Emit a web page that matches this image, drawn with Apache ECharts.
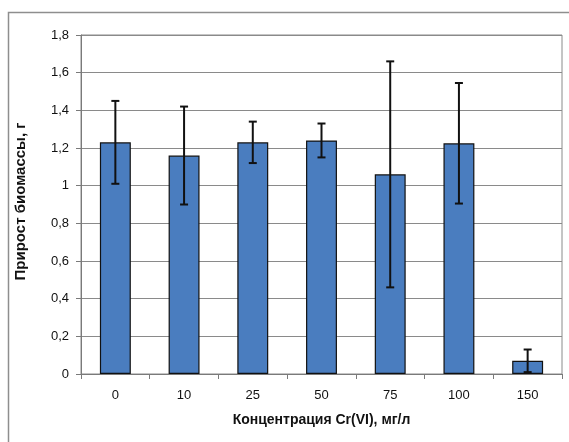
<!DOCTYPE html>
<html>
<head>
<meta charset="utf-8">
<script src="https://cdn.jsdelivr.net/npm/echarts@6/dist/echarts.min.js"></script>
<style>
  html, body { margin: 0; padding: 0; background: #ffffff; }
  #chart { width: 569px; height: 442px; }
</style>
</head>
<body>
<div id="chart"></div>
<script>
// Biomass growth vs. Cr(VI) concentration, mean ± error
const categories = ['0', '10', '25', '50', '75', '100', '150'];
const growth = [1.23, 1.16, 1.23, 1.24, 1.06, 1.225, 0.07];
const errors = [0.22, 0.26, 0.11, 0.09, 0.60, 0.32, 0.06];
const yTicks = { min: 0, max: 1.8, interval: 0.2 };

const errorData = categories.map((c, i) => [i, growth[i] - errors[i], growth[i] + errors[i]]);

const chart = echarts.init(document.getElementById('chart'), null, { renderer: 'canvas' });

const font = 'Arial, "Liberation Sans", sans-serif';

chart.setOption({
  animation: false,
  backgroundColor: '#ffffff',
  grid: { left: 81, top: 35, right: 7, bottom: 68, containLabel: false,
          show: true, borderColor: '#8a8a8a', borderWidth: 1 },
  graphic: [{
    type: 'polyline',
    shape: { points: [[8.5, 450], [8.5, 12.5], [580, 12.5]] },
    style: { stroke: '#8e8e8e', lineWidth: 1.5, fill: null },
    silent: true
  }],
  xAxis: {
    type: 'category',
    data: categories,
    name: 'Концентрация Cr(VI), мг/л',
    nameLocation: 'middle',
    nameGap: 39,
    nameTextStyle: { fontFamily: font, fontWeight: 'bold', fontSize: 14, color: '#111' },
    axisLine: { lineStyle: { color: '#7a7a7a', width: 1 } },
    axisTick: { show: true, length: 5, lineStyle: { color: '#7a7a7a' } },
    axisLabel: { fontFamily: font, fontSize: 13, color: '#111', margin: 15 },
    splitLine: { show: false }
  },
  yAxis: {
    type: 'value',
    min: yTicks.min, max: yTicks.max, interval: yTicks.interval,
    name: 'Прирост биомассы, г',
    nameLocation: 'middle',
    nameGap: 53,
    nameTextStyle: { fontFamily: font, fontWeight: 'bold', fontSize: 15, color: '#111',
                     padding: [0, 0, 0, 6] },
    axisLine: { show: true, lineStyle: { color: '#7a7a7a', width: 1 } },
    axisTick: { show: true, length: 5, lineStyle: { color: '#7a7a7a' } },
    axisLabel: {
      fontFamily: font, fontSize: 13, color: '#111', margin: 12,
      formatter: v => (Math.round(v * 10) / 10).toString().replace('.', ',')
    },
    splitLine: { show: true, lineStyle: { color: '#8a8a8a', width: 1 } }
  },
  series: [
    {
      type: 'bar',
      data: growth,
      barWidth: '45%',
      itemStyle: { color: '#4a7dbf', borderColor: '#111', borderWidth: 1.2 },
      z: 2
    },
    {
      type: 'custom',
      data: errorData,
      z: 5,
      renderItem: function (params, api) {
        const x = api.value(0);
        const lo = api.coord([x, api.value(1)]);
        const hi = api.coord([x, api.value(2)]);
        const w = 4;
        const st = { stroke: '#111', lineWidth: 2 };
        return {
          type: 'group',
          children: [
            { type: 'line', shape: { x1: hi[0], y1: hi[1], x2: lo[0], y2: lo[1] }, style: st },
            { type: 'line', shape: { x1: hi[0] - w, y1: hi[1], x2: hi[0] + w, y2: hi[1] }, style: st },
            { type: 'line', shape: { x1: lo[0] - w, y1: lo[1], x2: lo[0] + w, y2: lo[1] }, style: st }
          ]
        };
      }
    }
  ]
});
</script>
</body>
</html>
